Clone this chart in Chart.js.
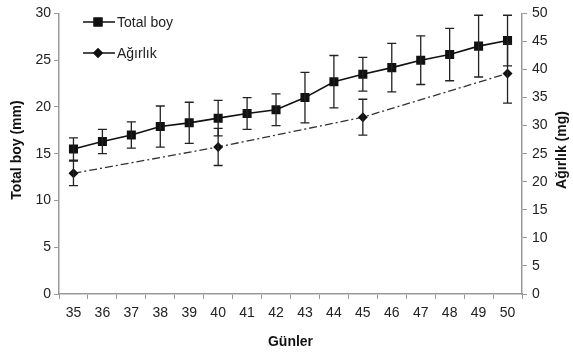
<!DOCTYPE html>
<html>
<head>
<meta charset="utf-8">
<script src="https://cdn.jsdelivr.net/npm/chart.js@4"></script>
<style>
    body { margin: 0; background: #fff; }
    #wrap { width: 573px; height: 352px; }
</style>
</head>
<body>
<div id="wrap"><canvas id="chart"></canvas></div>
<script>
const days = ["35", "36", "37", "38", "39", "40", "41", "42", "43", "44", "45", "46", "47", "48", "49", "50"];
const totalBoy = [15.5, 16.3, 17.0, 17.9, 18.3, 18.8, 19.3, 19.7, 21.0, 22.7, 23.5, 24.2, 25.0, 25.6, 26.5, 27.1];
const totalBoyErr = [1.2, 1.3, 1.4, 2.2, 2.2, 1.9, 1.7, 1.7, 2.7, 2.8, 1.8, 2.6, 2.6, 2.8, 3.3, 2.7];
const agirlik = [21.5, null, null, null, null, 26.2, null, null, null, null, 31.5, null, null, null, null, 39.3];
const agirlikErr = [2.2, null, null, null, null, 3.3, null, null, null, null, 3.2, null, null, null, null, 5.3];
const leftTicks = [0, 5, 10, 15, 20, 25, 30];
const rightTicks = [0, 5, 10, 15, 20, 25, 30, 35, 40, 45, 50];

const ink = "#111";
const axisGray = "#999";
const font = "Liberation Sans, Arial, sans-serif";

// vertical error bars with caps, drawn from the scales
const errorBars = {
    id: "errorBars",
    afterDatasetsDraw(chart) {
        const ctx = chart.ctx;
        const x = chart.scales.x;
        ctx.save();
        ctx.strokeStyle = "#222";
        ctx.lineWidth = 1.3;
        chart.data.datasets.forEach(ds => {
            const y = chart.scales[ds.yAxisID];
            ds.data.forEach((v, i) => {
                const e = ds.errors[i];
                if (v == null || e == null) return;
                const px = x.getPixelForValue(i);
                const top = y.getPixelForValue(v + e);
                const bot = y.getPixelForValue(v - e);
                ctx.beginPath();
                ctx.moveTo(px, top); ctx.lineTo(px, bot);
                ctx.moveTo(px - 4.5, top); ctx.lineTo(px + 4.5, top);
                ctx.moveTo(px - 4.5, bot); ctx.lineTo(px + 4.5, bot);
                ctx.stroke();
            });
        });
        ctx.restore();
    }
};

// legend inside the plot area + axis titles (both vertical ones read bottom to top)
const extras = {
    id: "extras",
    afterDraw(chart) {
        const ctx = chart.ctx;
        const area = chart.chartArea;
        const rows = [
            { label: "Total boy", y: 22, style: "rect", r: 6.4 },
            { label: "Ağırlık", y: 53, style: "rectRot", r: 5 }
        ];
        ctx.save();
        ctx.font = "14px " + font;
        ctx.textBaseline = "middle";
        for (const row of rows) {
            ctx.strokeStyle = ink;
            ctx.lineWidth = 1.5;
            ctx.beginPath();
            ctx.moveTo(83, row.y); ctx.lineTo(115, row.y);
            ctx.stroke();
            ctx.fillStyle = ink;
            Chart.helpers.drawPoint(ctx, { pointStyle: row.style, radius: row.r, borderWidth: 0 }, 98, row.y);
            ctx.fill();
            ctx.fillStyle = "#222";
            ctx.fillText(row.label, 117, row.y + 1);
        }

        ctx.fillStyle = ink;
        ctx.font = "bold 14px " + font;
        ctx.textAlign = "center";
        ctx.fillText("Günler", (area.left + area.right) / 2, 342);

        const midY = 150;
        ctx.save();
        ctx.translate(17, midY);
        ctx.rotate(-Math.PI / 2);
        ctx.fillText("Total boy (mm)", 0, 0);
        ctx.restore();

        ctx.save();
        ctx.translate(562, midY);
        ctx.rotate(-Math.PI / 2);
        ctx.fillText("Ağırlık (mg)", 0, 0);
        ctx.restore();
        ctx.restore();
    }
};

const ctx = document.getElementById("chart").getContext("2d");
new Chart(ctx, {
    type: "line",
    data: {
        labels: days,
        datasets: [
            {
                label: "Total boy",
                data: totalBoy,
                errors: totalBoyErr,
                yAxisID: "y",
                borderColor: ink,
                backgroundColor: ink,
                borderWidth: 1.6,
                pointStyle: "rect",
                pointRadius: 6.4,
                pointBorderWidth: 0,
                tension: 0
            },
            {
                label: "Ağırlık",
                data: agirlik,
                errors: agirlikErr,
                yAxisID: "y1",
                borderColor: "#333",
                backgroundColor: ink,
                borderWidth: 1.3,
                borderDash: [8, 3, 2, 3],
                pointStyle: "rectRot",
                pointRadius: 5,
                pointBorderWidth: 0,
                spanGaps: true,
                tension: 0
            }
        ]
    },
    options: {
        responsive: true,
        maintainAspectRatio: false,
        animation: false,
        layout: { padding: { top: 13, left: 0, right: 0, bottom: 0 } },
        plugins: {
            legend: { display: false },
            tooltip: { enabled: false }
        },
        scales: {
            x: {
                type: "category",
                offset: true,
                grid: { offset: true, drawOnChartArea: false, color: axisGray, tickLength: 5 },
                border: { color: axisGray, width: 1.5 },
                ticks: { color: "#222", font: { family: font, size: 14 }, padding: 6, maxRotation: 0 },
                afterFit(scale) { scale.height = 58; }
            },
            y: {
                position: "left",
                min: 0, max: 30,
                afterBuildTicks(scale) { scale.ticks = leftTicks.map(v => ({ value: v })); },
                grid: { drawOnChartArea: false, color: axisGray, tickLength: 5 },
                border: { color: axisGray, width: 1.5 },
                ticks: { color: "#222", font: { family: font, size: 14 }, padding: 3 },
                afterFit(scale) { scale.width = 59; }
            },
            y1: {
                position: "right",
                min: 0, max: 50,
                afterBuildTicks(scale) { scale.ticks = rightTicks.map(v => ({ value: v })); },
                grid: { drawOnChartArea: false, color: axisGray, tickLength: 5 },
                border: { color: axisGray, width: 1.5 },
                ticks: { color: "#222", font: { family: font, size: 14 }, padding: 5 },
                afterFit(scale) { scale.width = 51; }
            }
        }
    },
    plugins: [errorBars, extras]
});
</script>
</body>
</html>
